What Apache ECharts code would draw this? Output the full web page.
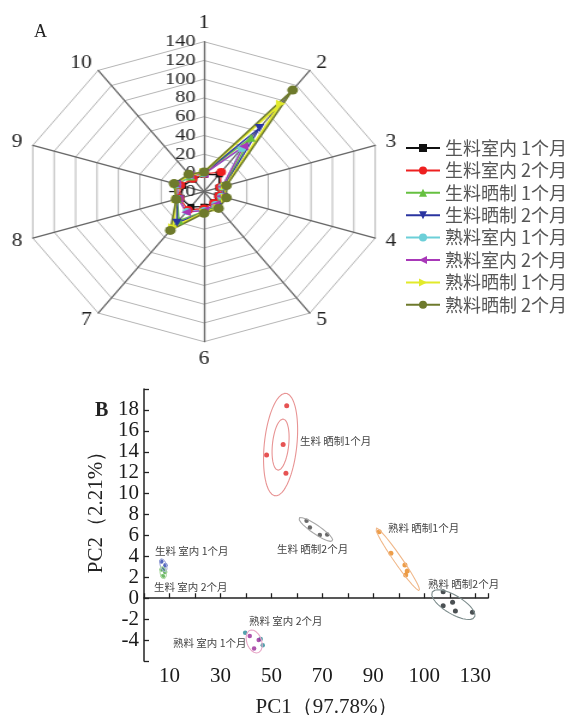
<!DOCTYPE html>
<html>
<head>
<meta charset="utf-8">
<script src="https://cdn.jsdelivr.net/npm/echarts@6/dist/echarts.min.js"></script>
<style>
  html, body { margin: 0; padding: 0; background: #fff; }
  #wrap { position: relative; width: 581px; height: 715px; overflow: hidden; }
  /* the radar web is drawn wider than tall */
  #radar { position: absolute; left: 0; top: 0; width: 400px; height: 380px;
           transform: scaleX(1.2); transform-origin: 204px 0; }
  #main { position: absolute; left: 0; top: 0; width: 581px; height: 715px; }
</style>
</head>
<body>
<div id="wrap">
  <div id="radar"></div>
  <div id="main"></div>
</div>
<script>
// ---------- Panel A: radar of the ten indicators ----------
const axisNames = ['1', '2', '3', '4', '5', '6', '7', '8', '9', '10'];
const radarNames = ['生料室内 1个月', '生料室内 2个月', '生料晒制 1个月', '生料晒制 2个月',
                    '熟料室内 1个月', '熟料室内 2个月', '熟料晒制 1个月', '熟料晒制 2个月'];
// values per indicator 1..10
const rawIndoor1  = [-2,   3, -6, -7, -6, -4,  0, 2, 0, -4];
const rawIndoor2  = [-1,   6, -5, -6, -5, -2,  4, 3, 2, -3];
const rawSun1     = [ 0,  51, -2, -3, -1,  1, 18, 5, 5,  0];
const rawSun2     = [ 0,  64, -1, -2,  0,  2, 21, 5, 6,  1];
const cookIndoor1 = [-1,  37, -3, -4, -3,  0,  6, 4, 5,  1];
const cookIndoor2 = [-1,  40, -3, -4, -3,  0,  7, 4, 6,  2];
const cookSun1    = [ 1,  96,  0,  0,  1,  2, 27, 6, 7,  2];
const cookSun2    = [ 1, 114,  1,  1,  2,  3, 31, 6, 8,  3];
const radarValues = [rawIndoor1, rawIndoor2, rawSun1, rawSun2, cookIndoor1, cookIndoor2, cookSun1, cookSun2];
const radarMin = -20, radarMax = 140;

const radarStyles = [
  { color: '#111111', symbol: 'rect', size: 6, width: 1.2 },
  { color: '#ee2020', symbol: 'circle', size: 8, width: 1.2 },
  { color: '#66c040', symbol: 'triangle', size: 8, width: 1.4 },
  { color: '#2a34a0', symbol: 'path://M0,0L10,0L5,9Z', size: 8, width: 1.4 },
  { color: '#6ccfd8', symbol: 'circle', size: 7, width: 1.2 },
  { color: '#a838b8', symbol: 'path://M10,0L10,10L0,5Z', size: 8, width: 1.4 },
  { color: '#e2ea2a', symbol: 'path://M0,0L10,5L0,10Z', size: 8, width: 2 },
  { color: '#6e7a2c', symbol: 'circle', size: 9, width: 1.6 }
];

// indicators run counter-clockwise in the radar component, so list them 1,10,9,...,2
const order = [0, 9, 8, 7, 6, 5, 4, 3, 2, 1];
const serifFont = '"Liberation Serif", "DejaVu Serif", serif';
const cjkFont = '"Noto Sans CJK SC", sans-serif';

const radarChart = echarts.init(document.getElementById('radar'), null, { renderer: 'canvas' });
radarChart.setOption({
  backgroundColor: 'transparent',
  animation: false,
  radar: {
    center: [204, 191.7],
    radius: 150,
    startAngle: 90,
    splitNumber: 8,
    shape: 'polygon',
    indicator: order.map((k, i) => {
      const ind = { name: axisNames[k], min: radarMin, max: radarMax };
      if (i === 0) ind.axisLabel = { show: true };
      return ind;
    }),
    nameGap: 9,
    axisName: { color: '#222', fontFamily: serifFont, fontSize: 18 },
    axisLine: { lineStyle: { color: '#666', width: 1.3 } },
    splitLine: { lineStyle: { color: '#b4b4b4', width: 1 } },
    splitArea: { show: false },
    axisTick: { show: false },
    axisLabel: { show: false, color: '#222', fontFamily: serifFont, fontSize: 17, margin: 7 }
  },
  series: radarNames.map((name, i) => ({
    type: 'radar',
    name: name,
    symbol: radarStyles[i].symbol,
    symbolSize: radarStyles[i].size,
    itemStyle: { color: radarStyles[i].color },
    lineStyle: { color: radarStyles[i].color, width: radarStyles[i].width },
    data: [{ name: name, value: order.map(k => radarValues[i][k]) }]
  }))
});

// ---------- Panel B: PCA score plot ----------
const xTickLabels = ['10', '30', '50', '70', '90', '100', '130'];
const pcNames = ['生料晒制1个月', '生料晒制2个月', '熟料晒制1个月', '熟料晒制2个月',
                 '生料室内1个月', '生料室内2个月', '熟料室内1个月', '熟料室内2个月'];
const pcLabels = ['生料 晒制1个月', '生料 晒制2个月', '熟料 晒制1个月', '熟料 晒制2个月',
                  '生料 室内 1个月', '生料 室内 2个月', '熟料 室内 1个月', '熟料 室内 2个月'];
const pcRawSun1 = [[56.0, 18.4], [54.6, 14.7], [48.1, 13.7], [55.7, 11.95]];
const pcRawSun2 = [[63.8, 7.4], [65.1, 6.75], [69.0, 6.05], [71.9, 6.1]];
const pcCookSun1 = [[92.3, 6.36], [96.9, 4.3], [102.4, 3.18], [103.3, 2.6], [102.7, 2.22]];
const pcCookSun2 = [[117.4, 0.62], [121.1, -0.39], [117.4, -0.72], [122.2, -1.22], [128.9, -1.35]];
const pcRawIn1 = [[6.8, 3.5], [8.4, 3.15], [7.6, 2.8]];
const pcRawIn2 = [[6.9, 2.75], [8.3, 2.5], [7.4, 2.1]];
const pcCookIn1 = [[39.7, -3.3], [45.8, -3.9], [46.6, -4.5]];
const pcCookIn2 = [[41.5, -3.6], [45.0, -4.0], [43.2, -4.8]];
const pcGroups = [pcRawSun1, pcRawSun2, pcCookSun1, pcCookSun2, pcRawIn1, pcRawIn2, pcCookIn1, pcCookIn2];

const pcStyles = [
  { dot: '#e02828', ring: '#e89494', size: 5 },
  { dot: '#444444', ring: '#a8a8a8', size: 4.5 },
  { dot: '#e8841c', ring: '#f0b88a', size: 5 },
  { dot: '#1e2428', ring: '#7c8c8c', size: 5 },
  { dot: '#2a44b0', ring: '#a8b0dc', size: 4.5 },
  { dot: '#48a840', ring: '#b4dcaa', size: 4.5 },
  { dot: '#2a8a98', ring: null, size: 4.5 },
  { dot: '#9a2a9a', ring: '#e8a8c8', size: 4.5 }
];
const ringScale = 1.8;       // confidence ellipse size, in standard deviations
const innerRingScale = 0.9;

// outline of the covariance ellipse of a group of score points
function covarianceEllipse(pts, k) {
  const n = pts.length;
  let mx = 0, my = 0;
  pts.forEach(p => { mx += p[0]; my += p[1]; });
  mx /= n; my /= n;
  let sxx = 0, syy = 0, sxy = 0;
  pts.forEach(p => {
    const dx = p[0] - mx, dy = p[1] - my;
    sxx += dx * dx; syy += dy * dy; sxy += dx * dy;
  });
  sxx /= (n - 1); syy /= (n - 1); sxy /= (n - 1);
  const tr = (sxx + syy) / 2;
  const d = Math.sqrt(((sxx - syy) / 2) ** 2 + sxy * sxy);
  const a = k * Math.sqrt(tr + d), b = k * Math.sqrt(Math.max(tr - d, 0));
  const th = 0.5 * Math.atan2(2 * sxy, sxx - syy);
  const out = [];
  for (let i = 0; i <= 120; i++) {
    const t = i / 120 * 2 * Math.PI;
    const u = a * Math.cos(t), v = b * Math.sin(t);
    out.push([mx + u * Math.cos(th) - v * Math.sin(th), my + u * Math.sin(th) + v * Math.cos(th)]);
  }
  return out;
}

const series = [];
pcGroups.forEach((pts, i) => {
  const st = pcStyles[i];
  if (st.ring) {
    series.push({ type: 'line', name: pcNames[i] + ' 置信椭圆', data: covarianceEllipse(pts, ringScale),
      showSymbol: false, silent: true, lineStyle: { color: st.ring, width: 1.1 } });
  }
  if (i === 0) {
    series.push({ type: 'line', name: pcNames[i] + ' 内椭圆', data: covarianceEllipse(pts, innerRingScale),
      showSymbol: false, silent: true, lineStyle: { color: st.ring, width: 1.1 } });
  }
  series.push({ type: 'scatter', name: pcNames[i], data: pts, symbolSize: st.size,
    itemStyle: { color: st.dot } });
});
// legend entries of panel A
radarNames.forEach((name, i) => {
  series.push({ type: 'line', name: name, data: [], symbol: radarStyles[i].symbol,
    symbolSize: radarStyles[i].size, itemStyle: { color: radarStyles[i].color },
    lineStyle: { color: radarStyles[i].color, width: 1.4 } });
});

// group captions beside each cluster
const captionPos = [[300, 436], [277, 544], [388, 523], [428, 579], [155, 546], [154, 582], [173, 638], [249, 616]];

const main = echarts.init(document.getElementById('main'), null, { renderer: 'canvas' });
main.setOption({
  backgroundColor: 'transparent',
  animation: false,
  legend: {
    data: radarNames,
    orient: 'vertical',
    left: 400, top: 134,
    itemWidth: 34, itemHeight: 10, itemGap: 4.4,
    selectedMode: false,
    textStyle: { fontFamily: cjkFont, fontSize: 18, lineHeight: 18, color: '#555' }
  },
  grid: { left: 144, top: 389, width: 344, height: 272, outerBoundsMode: 'none', containLabel: false },
  xAxis: {
    type: 'value', min: 0, max: 135, interval: 10,
    name: 'PC1（97.78%）', nameLocation: 'middle', nameGap: 36,
    nameTextStyle: { fontFamily: serifFont, fontSize: 21, color: '#222', padding: [0, 0, 0, 22] },
    axisLine: { lineStyle: { color: '#222', width: 1.5 } },
    axisTick: { inside: true, length: 5, lineStyle: { color: '#222', width: 1.3 } },
    axisLabel: {
      color: '#1a1a1a', fontFamily: serifFont, fontSize: 21, margin: 5,
      formatter: v => {
        const j = (v - 10) / 20;
        return (Number.isInteger(j) && j >= 0 && j < xTickLabels.length) ? xTickLabels[j] : '';
      }
    },
    splitLine: { show: false }
  },
  yAxis: {
    type: 'value', min: -6, max: 20, interval: 2,
    name: 'PC2（2.21%）', nameLocation: 'middle', nameGap: 34,
    nameTextStyle: { fontFamily: serifFont, fontSize: 21, color: '#222', padding: [0, 0, 0, 36] },
    axisLine: { show: true, lineStyle: { color: '#222', width: 1.5 } },
    axisTick: { show: true, inside: true, length: 5, lineStyle: { color: '#222', width: 1.3 } },
    axisLabel: {
      color: '#1a1a1a', fontFamily: serifFont, fontSize: 21, margin: 5,
      formatter: v => (v === -6 || v === 20) ? '' : String(v)
    },
    splitLine: { show: false }
  },
  graphic: [
    { type: 'text', left: 34, top: 23, style: { text: 'A', font: '18px ' + serifFont, fill: '#222' } },
    { type: 'text', left: 95, top: 401, style: { text: 'B', font: 'bold 20px ' + serifFont, fill: '#222' } }
  ].concat(pcLabels.map((t, i) => ({
    type: 'text', left: captionPos[i][0], top: captionPos[i][1],
    style: { text: t, font: '10.5px ' + cjkFont, fill: '#444' }
  }))),
  series: series
});
</script>
</body>
</html>
